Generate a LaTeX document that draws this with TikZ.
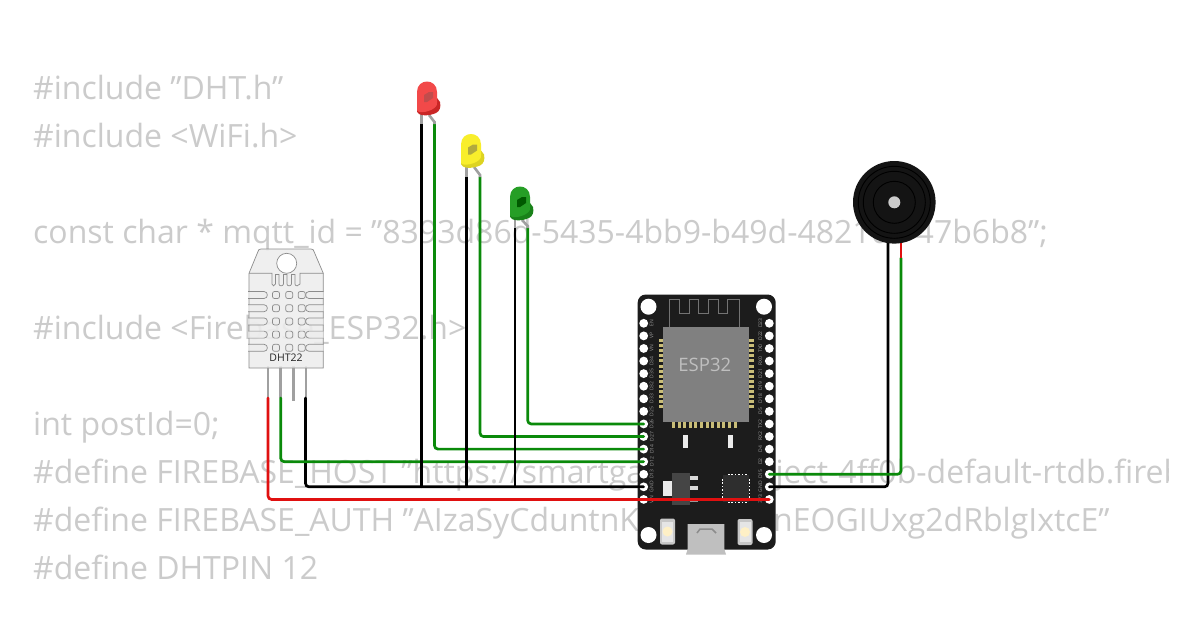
\documentclass[tikz,border=0pt]{standalone}
\usepackage{fontspec}
\usetikzlibrary{calc}
\setmainfont{Open Sans}
\definecolor{code}{HTML}{CBCBCB}
\definecolor{wgreen}{HTML}{0A8A0A}
\definecolor{wred}{HTML}{E01010}
\definecolor{pcb}{HTML}{1C1C1C}
\definecolor{modgray}{HTML}{808080}
\definecolor{gold}{HTML}{C9BD78}
\definecolor{leg}{HTML}{A0A0A0}
\definecolor{dhtbody}{HTML}{EDEDED}
\definecolor{dhtline}{HTML}{8C8C8C}
\tikzset{
  codeline/.style={anchor=base west,inner sep=0pt,text=code,font=\fontsize{32}{32}\selectfont},
  wire/.style={line width=2.7pt,rounded corners=3.5pt,line cap=round},
  legline/.style={line width=2.6pt,draw=leg},
  pinlabel/.style={inner sep=0pt,rotate=90,text=white!60!black,font=\fontsize{5}{5}\selectfont},
  slot/.style={draw=dhtline,line width=.7pt,fill=dhtbody,fill opacity=.75},
}
% LED: #1 left, #2 top, #3 body, #4 rim, #5 notch
\newcommand{\ledbody}[5]{%
  \begin{scope}[shift={(#1,#2)}]
    \fill[#4] (0,29) -- (20,17) -- (23,21) .. controls (24,26) and (23,30) .. (19,32)
      .. controls (12,35) and (5,35) .. (2,33) .. controls (0,32) and (0,30) .. (0,29) -- cycle;
    \fill[#3] (0,29) -- (0,11) .. controls (0,-3) and (20,-3) .. (20,11) -- (20,22)
      .. controls (21,27) and (10,32) .. (3,31) .. controls (1,31) and (0,30) .. (0,29) -- cycle;
    \fill[#5] (7,14) -- (12,11) -- (16,11) -- (16,17) -- (10,21) -- (7,21) -- cycle;
  \end{scope}}
\begin{document}
\begin{tikzpicture}[x=1pt,y=-1pt]
\useasboundingbox (0,0) rectangle (1200,630);
\fill[white] (0,0) rectangle (1200,630);

% ---- code text behind everything
\begin{scope}
\clip (0,0) rectangle (1168,630);
\node[codeline] (c1) at (33,99) {\#include "DHT.h"};
\node[codeline] (c2) at (33,147) {\#include <WiFi.h>};
\node[codeline] (c3) at (33,243) {const char * mqtt\_id = "8393d86d-5435-4bb9-b49d-482100 47b6b8";};
\node[codeline] (c4) at (33,339) {\#include <Firebase\_ESP32.h>};
\node[codeline] (c5) at (33,435) {int postId=0;};
\node[codeline] (c6) at (33,483) {\#define FIREBASE\_HOST "https://smartgarden-project-4ff0b-default-rtdb.firebaseio.com"};
\node[codeline] (c7) at (33,531) {\#define FIREBASE\_AUTH "AIzaSyCduntnKxxxxxxxxnEOGIUxg2dRblgIxtcE"};
\node[codeline] (c8) at (33,579) {\#define DHTPIN 12};
\end{scope}

% ---- named connection points
\foreach \i in {1,...,15} {
  \pgfmathsetmacro{\py}{323.3+12.58*(\i-1)}
  \coordinate (L\i) at (643.7,\py);
  \coordinate (R\i) at (769.3,\py);
}
\coordinate (dhtA) at (268,398);
\coordinate (dhtB) at (280.7,398);
\coordinate (dhtC) at (305.5,398);
\coordinate (ledRk) at (421.5,124);
\coordinate (ledRa) at (434.5,124);
\coordinate (ledYk) at (466.7,177);
\coordinate (ledYa) at (480,177);
\coordinate (ledGk) at (515,228);
\coordinate (ledGa) at (527.7,228);
\coordinate (bzN) at (888,242);
\coordinate (bzP) at (901,242);
\coordinate (bzJ) at (901,258);

% ---- ESP32 board
\fill[pcb,rounded corners=8pt] (637.7,294.5) rectangle (775.7,549.5);
\foreach \c in {(648.5,306.7),(764,306.7),(648.5,535),(764,535)} \fill[white] \c circle (8);
\foreach \i in {1,...,15} {
  \fill[white] (L\i) circle (4.4);
  \fill[white] (R\i) circle (4.4);
}
\foreach \i/\t in {1/EN,2/VP,3/VN,4/D34,5/D35,6/D32,7/D33,8/D25,9/D26,10/D27,11/D14,12/D12,13/D13,14/GND,15/VIN}
  \node[pinlabel] (ll\i) at ($(L\i)+(8,0)$) {\t};
\foreach \i/\t in {1/D23,2/D22,3/TX0,4/RX0,5/D21,6/D19,7/D18,8/D5,9/TX2,10/RX2,11/D4,12/D2,13/D15,14/GND,15/3V3}
  \node[pinlabel] (rl\i) at ($(R\i)+(-9,0)$) {\t};
% antenna
\draw[white!45!black,line width=.8pt] (669.5,326.7) -- (669.5,299) -- (679.5,299) -- (679.5,313) -- (689,313) -- (689,299)
  -- (698,299) -- (698,313) -- (708,313) -- (708,299) -- (718,299) -- (718,313) -- (727,313) -- (727,299) -- (739,299) -- (739,326.7);
% module castellations
\foreach \k in {0,...,13} {
  \pgfmathsetmacro{\py}{339+5.1*\k}
  \fill[gold] (658.5,\py) rectangle (663.5,\py+3);
  \fill[gold] (748.5,\py) rectangle (753.5,\py+3);
}
\foreach \k in {0,...,11} {
  \pgfmathsetmacro{\px}{672+5.6*\k}
  \fill[gold] (\px,422) rectangle (\px+3,428);
}
\fill[modgray] (663.3,326.7) rectangle (748.7,422.3);
\node[inner sep=0pt,text=white!75!black,font=\fontsize{18.5}{18.5}\selectfont] (esp) at (704.8,364.5) {ESP32};
% small SMD
\fill[white!92!black] (682.7,435) rectangle (688,447.5);
\fill[white!92!black] (727.7,435) rectangle (733.3,447.5);
% regulator
\fill[white!85!black] (690,476) rectangle (698,479.5);
\fill[white!85!black] (690,486) rectangle (698,490);
\fill[white!60!black] (690,497.5) rectangle (698,501.5);
\fill[white!92!black] (662.7,480.7) rectangle (672,495.7);
\fill[white!27!black] (672,473.3) rectangle (690,505);
% QFN chip
\fill[white!18!black] (723,475) rectangle (749,502);
\foreach \k in {0,...,5} {
  \pgfmathsetmacro{\px}{728+3.4*\k}
  \fill[white] (\px,473.5) rectangle (\px+1.6,475.3);
  \fill[white] (\px,501.5) rectangle (\px+1.6,503.3);
}
\foreach \k in {0,...,6} {
  \pgfmathsetmacro{\py}{479+3.4*\k}
  \fill[white] (721.7,\py) rectangle (723.3,\py+1.6);
  \fill[white] (748.7,\py) rectangle (750.3,\py+1.6);
}
% buttons
\foreach \bx/\by in {667.5/531.5,745/532} {
  \fill[white!78!black,rounded corners=2pt] (\bx-7.5,\by-13) rectangle (\bx+7.5,\by+13);
  \fill[white!90!black] (\bx-5.5,\by-10) rectangle (\bx+5.5,\by+10);
  \fill[white!88!yellow!90!orange] (\bx,\by) circle (5);
}
% USB
\fill[white!75!black] (687.7,524) -- (724.3,524) -- (724.3,549) -- (726,554.5) -- (686,554.5) -- (687.7,549) -- cycle;
\draw[white!55!black,line width=1.5pt] (697,533) -- (700,529) -- (712,529) -- (716,533);

% ---- DHT22
\foreach \px/\yy in {268/398,280.7/398,293.3/401,306/398} \draw[legline] (\px,366) -- (\px,\yy);
\fill[dhtbody,fill opacity=.88,draw=dhtline,line width=.7pt]
  (249,273.3) -- (258,251.5) .. controls (258.5,249.8) and (259,249) .. (261,249) -- (311,249)
  .. controls (313,249) and (313.5,249.8) .. (314,251.5) -- (323.3,273.3) -- (323.3,368) -- (249,368) -- cycle;
\fill[white,draw=dhtline,line width=.7pt] (286.7,263.3) circle (10);
\draw[dhtline,line width=.7pt] (249,273.3) -- (272,273.3) -- (272,284) .. controls (272,286.5) and (275,286.5) .. (275.5,284)
  -- (275.5,274.5) -- (279,274.5) -- (279,284) .. controls (279,286.5) and (283,286.5) .. (283.5,284) -- (283.5,274.5) -- (287,274.5)
  -- (287,284) .. controls (287,286.5) and (291,286.5) .. (291.5,284) -- (291.5,274.5) -- (295,274.5) -- (295,284)
  .. controls (295,286.5) and (299,286.5) .. (300,284) -- (300,273.3) -- (323.3,273.3);
\foreach \r in {0,...,4} {
  \pgfmathsetmacro{\ry}{291.5+13.2*\r}
  \draw[slot] (248,\ry) -- (264,\ry) .. controls (268.5,\ry) and (268.5,\ry+7) .. (264,\ry+7) -- (248,\ry+7);
  \draw[slot] (323.5,\ry) -- (309,\ry) .. controls (304.5,\ry) and (304.5,\ry+7) .. (309,\ry+7) -- (323.5,\ry+7);
  \foreach \q in {272.5,285.7,298.2} \draw[slot,rounded corners=2pt] (\q,\ry) rectangle (\q+7,\ry+7);
}
\node[inner sep=0pt,text=black!85,font=\fontsize{10.5}{10.5}\selectfont] (dhtlab) at (286,358) {DHT22};

% ---- wires
\draw[wire,wred] (dhtA) |- (R15);
\draw[wire,black] (dhtC) |- (L14);
\draw[wire,wgreen] (dhtB) |- (L12);
\draw[wire,black] (ledRk) -- (ledRk |- L14);
\draw[wire,wgreen] (ledRa) |- (L11);
\draw[wire,black] (ledYk) -- (ledYk |- L14);
\draw[wire,wgreen] (ledYa) |- (L10);
\draw[wire,black] (ledGk) -- (ledGk |- L14);
\draw[wire,wgreen] (ledGa) |- (L9);
\draw[wire,black] (bzN) |- (R14);
\draw[wire,wgreen] (bzJ) |- (R13);
\draw[line width=2.7pt,wred] (bzP) -- (bzJ);

% ---- LEDs
\draw[legline] (421.5,112) -- (421.5,124);
\draw[legline] (429,115) -- (434.5,122) -- (434.5,124);
\ledbody{417}{81}{red!70!white!95!black}{red!75!black!85!white}{red!65!black!70!white}
\draw[legline] (466.7,165) -- (466.7,177);
\draw[legline] (474,167) -- (480,175) -- (480,177);
\ledbody{461}{133.5}{yellow!85!white!97!black}{yellow!85!black}{yellow!65!black}
\draw[legline] (515,218) -- (515,228);
\draw[legline] (522,220) -- (527.7,226) -- (527.7,228);
\ledbody{510}{186}{green!55!black!85!white}{green!45!black!90!white}{green!35!black}

% ---- buzzer
\fill[black!92] (894.3,202.3) circle (41.3);
\draw[black,line width=.9pt] (894.3,202.3) circle (36);
\draw[black,line width=.9pt] (894.3,202.3) circle (31);
\draw[black,line width=.9pt] (894.3,202.3) circle (21);
\fill[white!80!black] (894.3,202.3) circle (6);
\end{tikzpicture}
\end{document}
